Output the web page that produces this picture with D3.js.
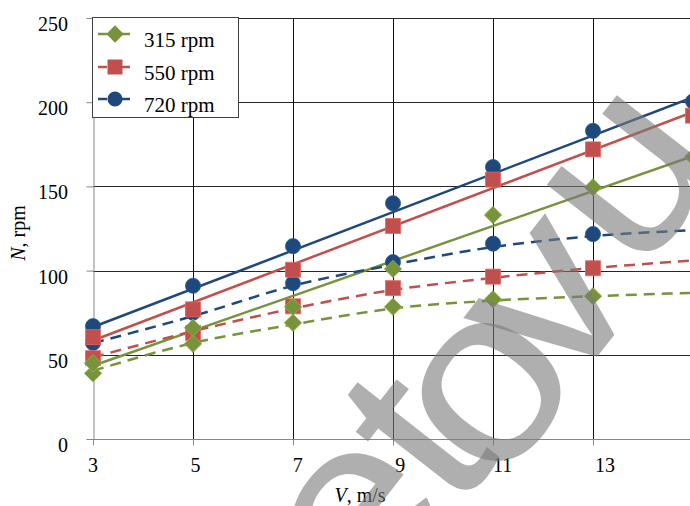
<!DOCTYPE html>
<html>
<head>
<meta charset="utf-8">
<script src="https://cdnjs.cloudflare.com/ajax/libs/d3/7.8.5/d3.min.js"></script>
<style>
  body { margin: 0; background: #fff; }
  svg { display: block; font-family: "Liberation Serif", "Times New Roman", serif; }
</style>
</head>
<body>
<svg id="chart" width="690" height="506"></svg>
<script>
// wind speed, m/s
const speeds = [3, 5, 7, 9, 11, 13, 15];
const speedsDashed = [3, 5, 7, 9, 11, 13];
const xTicks = [3, 5, 7, 9, 11, 13];
const yTicks = [0, 50, 100, 150, 200, 250];

// markers of the straight-line set (N, rpm)
const n315 = [45, 66, 78.5, 101, 133, 149.5, 167.5];
const n550 = [60.5, 77, 100.5, 126.5, 154, 172, 192];
const n720 = [67, 91, 114.5, 140, 161.5, 183, 200.5];

// markers of the dashed set
const n315d = [39, 56.5, 69, 78.5, 83, 84.8];
const n550d = [48, 63, 78.8, 89.6, 96.4, 101.4];
const n720d = [57, 75, 92.5, 105, 116, 121.7];

// straight trend lines read at V = 3 and V = 15
const trendEnds = [3, 15];
const trend315 = [43.5, 168];
const trend550 = [58.5, 194.2];
const trend720 = [66.5, 203];

// dashed trend lines read at every odd V
const curve315 = [40.5, 57, 68, 77.5, 82.2, 84.8, 86.8];
const curve550 = [48.5, 64, 77.5, 88.5, 95.7, 101.5, 106];
const curve720 = [57, 73, 91, 103.5, 114, 120.5, 124];

const labels = ["315 rpm", "550 rpm", "720 rpm"];
const colors = ["#77933c", "#c0504d", "#1f497d"];

// watermark letters
const markLetters = ["e", "t", "o", "v", "u"];

const svg = d3.select("#chart");

let x = d3.scaleLinear().domain([3, 15]).range([93, 693]),
    y = d3.scaleLinear().domain([0, 250]).range([439, 18]);

svg.append("rect").attr("width", 690).attr("height", 506).attr("fill", "#fff");

// grid
let grid = svg.append("g");
grid.selectAll(".hg")
    .data(yTicks.slice(1))
    .enter().append("line")
        .attr("x1", x(3)).attr("x2", 690)
        .attr("y1", d => Math.round(y(d)) + 0.5)
        .attr("y2", d => Math.round(y(d)) + 0.5)
        .attr("stroke", "#262626");
grid.selectAll(".vg")
    .data(xTicks.slice(1))
    .enter().append("line")
        .attr("x1", d => Math.round(x(d)) + 0.5)
        .attr("x2", d => Math.round(x(d)) + 0.5)
        .attr("y1", y(250)).attr("y2", y(0) + 6)
        .attr("stroke", "#111");

// axes
let axisX = svg.append("g")
    .attr("transform", "translate(0," + (Math.round(y(0)) + 0.5) + ")")
    .call(d3.axisBottom(x).tickValues(xTicks).tickSize(6).tickFormat(""));
axisX.select(".domain").attr("d", "M" + x(3) + ",0H690");
axisX.selectAll("line, .domain").attr("stroke", "#868686");

let axisY = svg.append("g")
    .attr("transform", "translate(" + (Math.round(x(3)) + 0.5) + ",0)")
    .call(d3.axisLeft(y).tickValues(yTicks).tickSize(7).tickSizeOuter(0).tickFormat(""));
axisY.selectAll("line, .domain").attr("stroke", "#868686");

svg.append("g").selectAll("text")
    .data(yTicks)
    .enter().append("text")
        .attr("x", 68)
        .attr("y", d => y(d) + 6)
        .attr("dy", "0.35em")
        .attr("text-anchor", "end")
        .attr("font-size", 20)
        .text(d => d);

svg.append("g").selectAll("text")
    .data(xTicks)
    .enter().append("text")
        .attr("x", d => x(d) + (d - 3) * 1.2)
        .attr("y", 465)
        .attr("dy", "0.35em")
        .attr("text-anchor", "middle")
        .attr("font-size", 20)
        .text(d => d);

// axis titles
let xt = svg.append("text")
    .attr("x", 360).attr("y", 502)
    .attr("text-anchor", "middle")
    .attr("font-size", 20);
xt.append("tspan").attr("font-style", "italic").text("V");
xt.append("tspan").text(", m/s");

let yt = svg.append("text")
    .attr("transform", "translate(25,233) rotate(-90)")
    .attr("text-anchor", "middle")
    .attr("font-size", 20);
yt.append("tspan").attr("font-style", "italic").text("N");
yt.append("tspan").text(", rpm");

// marker shapes: diamond is a square turned by 45 degrees
const markerPath = [
    d3.symbol().type(d3.symbolSquare).size(150)(),
    d3.symbol().type(d3.symbolSquare).size(225)(),
    d3.symbol().type(d3.symbolCircle).size(180)()
];
const markerTurn = [45, 0, 0];

// lines
const straight = [trend315, trend550, trend720];
const curved = [curve315, curve550, curve720];
const dots = [n315, n550, n720];
const dotsDashed = [n315d, n550d, n720d];

let plot = svg.append("g");

let curveLine = d3.line()
    .x((d, i) => x(speeds[i]))
    .y(d => y(d))
    .curve(d3.curveMonotoneX);
let trendLine = d3.line()
    .x((d, i) => x(trendEnds[i]))
    .y(d => y(d));

for (let s = 0; s < 3; s++) {
    plot.append("path")
        .attr("d", curveLine(curved[s]))
        .attr("fill", "none")
        .attr("stroke", colors[s])
        .attr("stroke-width", 2.5)
        .attr("stroke-dasharray", "11,7");
    plot.append("path")
        .attr("d", trendLine(straight[s]))
        .attr("fill", "none")
        .attr("stroke", colors[s])
        .attr("stroke-width", 2.5);
}

// markers: dashed set first, then the straight set (blue, red, green)
const drawMarkers = (values, xs, s) => {
    plot.append("g").selectAll("path")
        .data(values)
        .enter().append("path")
            .attr("transform", (d, i) => "translate(" + x(xs[i]) + "," + y(d) + ") rotate(" + markerTurn[s] + ")")
            .attr("d", markerPath[s])
            .attr("fill", colors[s])
            .attr("stroke", d3.color(colors[s]).brighter(0.6))
            .attr("stroke-width", 0.8);
};
for (let s = 2; s >= 0; s--) drawMarkers(dotsDashed[s], speedsDashed, s);
for (let s = 2; s >= 0; s--) drawMarkers(dots[s], speeds, s);

// legend
let legend = svg.append("g");
legend.append("rect")
    .attr("x", 92.5).attr("y", 17.5)
    .attr("width", 146).attr("height", 100)
    .attr("fill", "#fff")
    .attr("stroke", "#404040");
const legendY = [34, 67, 99];
labels.forEach((label, s) => {
    let row = legend.append("g").attr("transform", "translate(0," + legendY[s] + ")");
    row.append("line")
        .attr("x1", 98).attr("x2", 130)
        .attr("stroke", colors[s])
        .attr("stroke-width", 2.5)
        .attr("stroke-dasharray", "9,3");
    row.append("path")
        .attr("transform", "translate(115,0) rotate(" + markerTurn[s] + ")")
        .attr("d", markerPath[s])
        .attr("fill", colors[s]);
    row.append("text")
        .attr("x", 144).attr("y", 6)
        .attr("dy", "0.35em")
        .attr("font-size", 21)
        .text(label);
});

// watermark over the picture, one letter at a time
const markPos = [[362, 522], [428, 446], [492, 393], [556, 306], [634, 180]];
svg.append("g").selectAll("text")
    .data(markLetters)
    .enter().append("text")
        .attr("transform", (d, i) => "translate(" + markPos[i][0] + "," + markPos[i][1] + ") rotate(-52) scale(1.1,1)")
        .attr("text-anchor", "middle")
        .attr("dy", "0.26em")
        .attr("font-family", "'Liberation Sans', Arial, sans-serif")
        .attr("font-size", 245)
        .attr("fill", "#7a7a7a")
        .attr("fill-opacity", 0.6)
        .text(d => d);
</script>
</body>
</html>
